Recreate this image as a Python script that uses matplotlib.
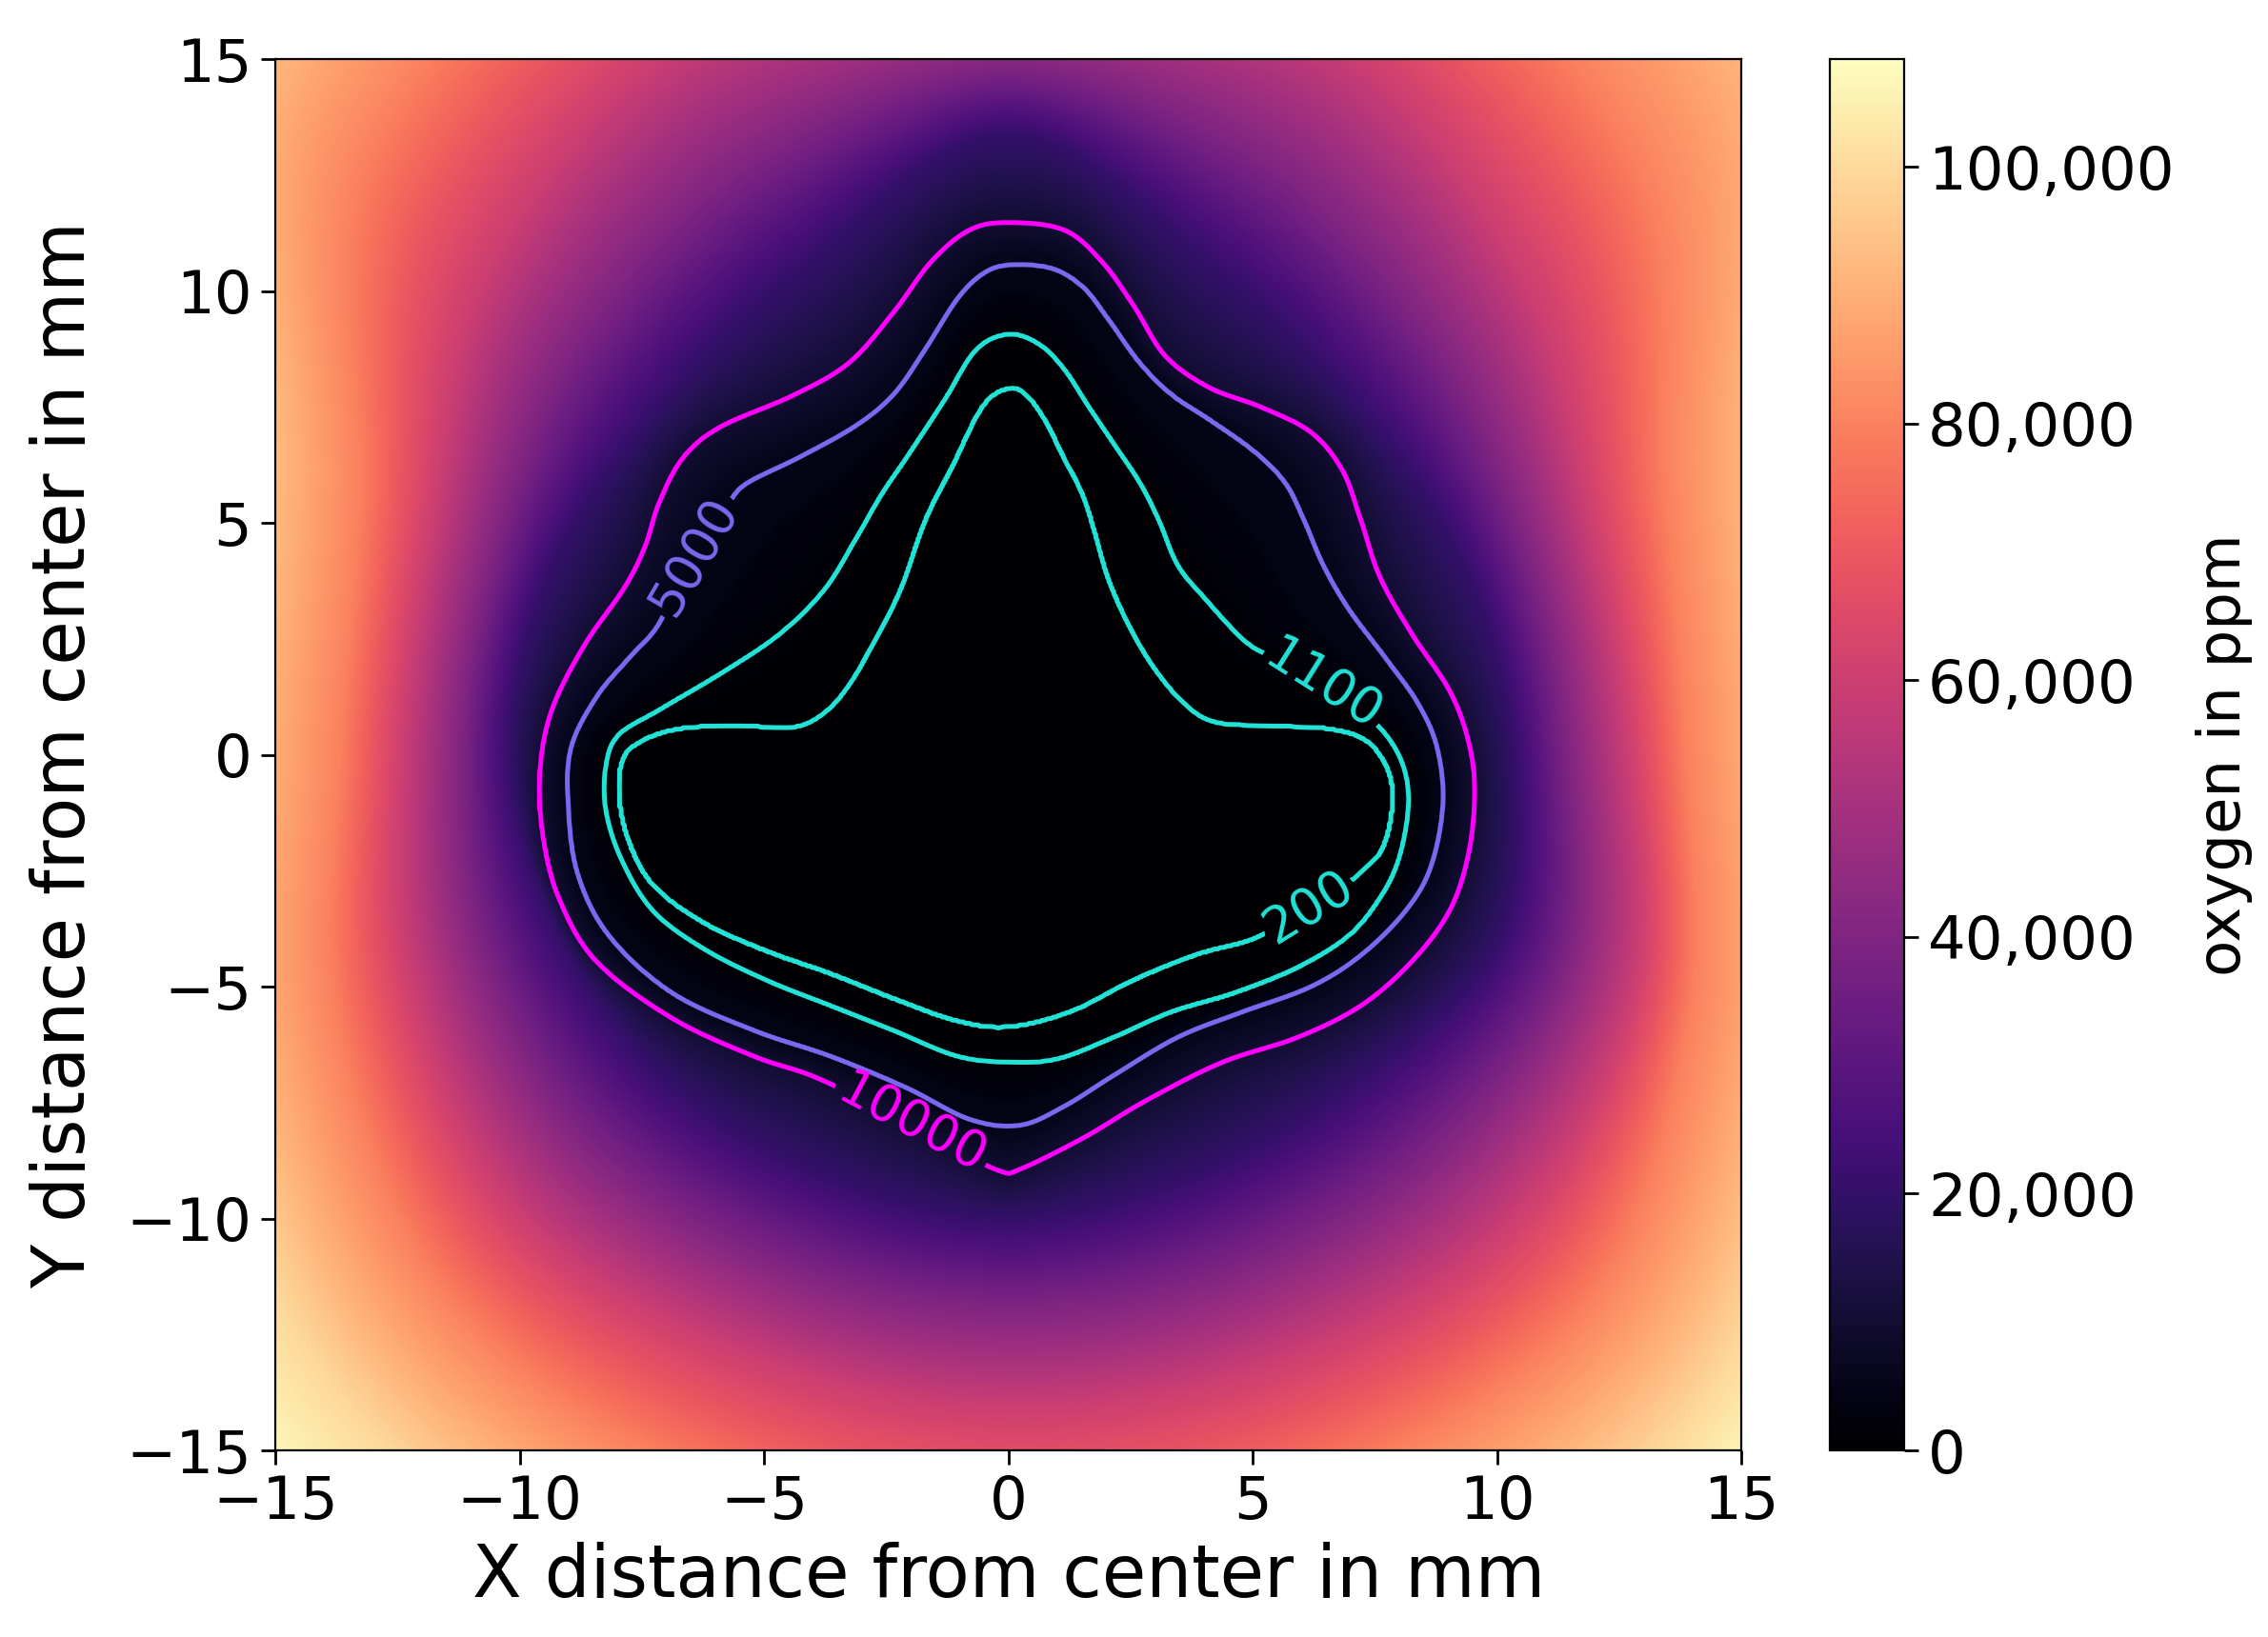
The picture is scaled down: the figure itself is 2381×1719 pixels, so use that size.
import matplotlib
matplotlib.use("Agg")
import matplotlib.pyplot as plt
import numpy as np
from matplotlib.ticker import FuncFormatter


# contour lines, (x, y) in mm, going round clockwise from the top
C200_X = [0, 0.36, 0.75, 1.14, 1.53, 1.78, 2.04, 2.43, 2.95, 3.59, 4.24, 5.40, 6.57, 7.34, 7.80,
          7.86, 7.67, 7.28, 6.70, 5.92, 5.02, 3.85, 2.56, 1.27, 0, -1.06, -2.35, -3.65, -4.94,
          -6.23, -7.27, -7.78, -7.98, -7.91, -7.52, -6.75, -5.58, -4.42, -3.77, -3.26, -2.74,
          -2.22, -1.71, -1.19, -0.54]
C200_Y = [7.91, 7.77, 7.23, 6.41, 5.60, 4.78, 3.83, 2.88, 1.93, 1.12, 0.71, 0.63, 0.57, 0.30, -0.38,
          -1.20, -2.01, -2.49, -2.96, -3.44, -3.98, -4.32, -4.87, -5.55, -5.88, -5.75, -5.27, -4.73,
          -4.25, -3.64, -2.83, -1.88, -0.92, -0.11, 0.30, 0.57, 0.64, 0.60, 0.91, 1.52, 2.47, 3.56,
          5.06, 6.15, 7.51]

C1100_X = [0, 0.62, 1.14, 1.65, 2.17, 2.69, 3.08, 3.46, 3.98, 4.89, 5.66, 6.44, 7.21, 7.80, 8.12,
           8.18, 7.98, 7.60, 6.96, 5.92, 4.63, 3.34, 2.17, 1.01, 0, -1.06, -2.35, -3.65, -4.94,
           -6.23, -7.27, -7.91, -8.24, -8.24, -7.98, -7.14, -5.84, -4.68, -3.77, -3.13, -2.61,
           -2.09, -1.32, -0.67]
C1100_Y = [9.07, 8.86, 8.32, 7.50, 6.69, 5.87, 5.06, 4.10, 3.42, 2.41, 2.00, 1.52, 0.98, 0.33, -0.38,
           -1.20, -2.28, -3.10, -3.91, -4.59, -5.14, -5.55, -6.09, -6.56, -6.63, -6.50, -5.95, -5.41,
           -4.87, -4.19, -3.37, -2.28, -1.20, -0.24, 0.43, 0.98, 1.79, 2.61, 3.56, 4.65, 5.60, 6.41,
           7.64, 8.73]

C5000_X = [0, 0.88, 1.53, 2.04, 2.69, 3.34, 4.11, 5.02, 5.66, 6.05, 6.44, 6.96, 7.73, 8.38, 8.77,
           8.89, 8.64, 8.12, 7.21, 6.18, 4.76, 3.46, 2.17, 1.14, 0.23, -0.80, -2.09, -3.65, -5.20,
           -6.88, -8.17, -8.82, -9.01, -8.95, -8.43, -7.78, -7.20, -6.75, -6.23, -5.71, -5.33,
           -4.29, -3.13, -2.35, -1.71, -1.06, -0.54]
C5000_Y = [10.56, 10.49, 10.08, 9.40, 8.45, 7.77, 7.23, 6.55, 5.87, 5.06, 4.10, 3.15, 2.07, 1.11, 0.16,
           -1.06, -2.42, -3.37, -4.32, -5.00, -5.55, -6.09, -6.90, -7.58, -7.99, -7.86, -7.18, -6.50,
           -5.95, -5.14, -3.91, -2.56, -1.06, 0.16, 1.25, 2.07, 2.75, 3.70, 4.65, 5.46, 5.87, 6.41,
           7.09, 7.77, 8.73, 9.81, 10.36]

C10000_X = [0, 1.14, 1.91, 2.56, 3.21, 4.11, 5.15, 6.18, 6.83, 7.21, 7.60, 8.25, 9.02, 9.41, 9.54,
            9.41, 9.02, 8.25, 7.21, 5.92, 4.37, 2.82, 1.53, 0.23, -0.16, -1.00, -2.00, -3.90, -5.20,
            -6.88, -8.43, -9.20, -9.53, -9.59, -9.35, -8.69, -7.86, -7.44, -7.15, -6.67, -5.91,
            -4.40, -3.26, -2.35, -1.58, -0.80]
C10000_Y = [11.47, 11.31, 10.63, 9.68, 8.59, 7.91, 7.50, 6.96, 6.14, 5.06, 3.83, 2.61, 1.39, 0.30, -0.79,
            -2.15, -3.37, -4.46, -5.41, -6.09, -6.63, -7.45, -8.26, -8.94, -8.98, -8.55, -7.95, -6.97,
            -6.50, -5.68, -4.46, -3.10, -1.74, -0.38, 0.95, 2.34, 3.60, 4.48, 5.43, 6.39, 7.06,
            7.75, 8.45, 9.54, 10.63, 11.31]

# outer field: distance (mm) from the centre where each level is reached, per direction
OUTER_ANGLES = [0, 22.5, 45, 67.5, 90, 112.5, 135, 157.5, 180, 202.5, 225, 247.5, 270, 292.5, 315, 337.5]
R20000 = [10.35, 10.2, 10.35, 11.3, 13.4, 11.3, 10.35, 10.2, 10.2, 10.0, 9.9, 9.8, 10.0, 9.8, 10.0, 10.8]
R40000 = [11.45, 11.5, 12.4, 13.8, 14.8, 13.8, 12.5, 11.4, 11.2, 11.6, 12.0, 11.9, 11.9, 12.0, 12.2, 12.3]
R60000 = [12.7, 12.9, 14.8, 16.8, 16.5, 16.8, 15.0, 12.8, 12.4, 13.2, 14.1, 14.0, 14.1, 14.2, 14.4, 13.8]
R80000 = [13.9, 14.6, 18.2, 20.0, 18.5, 20.0, 18.5, 14.4, 13.7, 14.9, 16.4, 16.8, 17.0, 17.0, 16.8, 15.1]
R100000 = [16.5, 17.6, 23.5, 24.0, 21.0, 24.0, 23.0, 17.2, 16.4, 17.8, 19.5, 20.2, 20.0, 20.5, 20.0, 18.0]
R110000 = [19.0, 20.0, 27.0, 28.0, 24.0, 28.0, 27.0, 19.8, 19.0, 20.5, 22.0, 23.0, 23.0, 23.0, 22.0, 21.0]

LINE_LEVELS = [200, 1100, 5000, 10000]
OUTER_LEVELS = [20000, 40000, 60000, 80000, 100000, 110000]
CBAR_TICKS = [0, 20000, 40000, 60000, 80000, 100000]
VMAX = 108400


def catmull_rom_closed(xs, ys, n=24):
    p = np.column_stack([xs, ys]).astype(float)
    p0, p1, p2, p3 = np.roll(p, 1, axis=0), p, np.roll(p, -1, axis=0), np.roll(p, -2, axis=0)
    t = np.linspace(0, 1, n, endpoint=False)[:, None, None]
    out = 0.5 * (2 * p1 + (-p0 + p2) * t + (2 * p0 - 5 * p1 + 4 * p2 - p3) * t ** 2
                 + (-p0 + 3 * p1 - 3 * p2 + p3) * t ** 3)
    out = out.transpose(1, 0, 2).reshape(-1, 2)
    return out[:, 0], out[:, 1]


def radius_table(xs, ys, theta_grid):
    x, y = catmull_rom_closed(xs, ys)
    ang = np.degrees(np.arctan2(y, x)) % 360
    r = np.hypot(x, y)
    order = np.argsort(ang)
    return np.interp(theta_grid, ang[order], r[order], period=360)


def build_field(n=900):
    theta_grid = np.arange(0, 360, 0.25)
    tables = [np.zeros_like(theta_grid)]
    for cx, cy in [(C200_X, C200_Y), (C1100_X, C1100_Y), (C5000_X, C5000_Y), (C10000_X, C10000_Y)]:
        tables.append(radius_table(cx, cy, theta_grid))
    ang = np.radians(OUTER_ANGLES)
    for radii in [R20000, R40000, R60000, R80000, R100000, R110000]:
        radii = np.asarray(radii)
        tables.append(radius_table(radii * np.cos(ang), radii * np.sin(ang), theta_grid))
    tables = np.array(tables)
    tables = np.maximum.accumulate(tables + 1e-3 * np.arange(len(tables))[:, None], axis=0)
    values = [0] + LINE_LEVELS + OUTER_LEVELS

    grid = np.linspace(-15, 15, n)
    X, Y = np.meshgrid(grid, grid)
    r = np.hypot(X, Y)
    th = np.degrees(np.arctan2(Y, X)) % 360
    radii_at = np.array([np.interp(th, theta_grid, tab, period=360) for tab in tables])

    Z = np.full(X.shape, float(values[-1]))
    for k in range(len(values) - 2, -1, -1):
        lo, hi = radii_at[k], radii_at[k + 1]
        inside = r <= hi
        frac = np.clip((r - lo) / (hi - lo), 0, 1)
        Z = np.where(inside, values[k] + frac * (values[k + 1] - values[k]), Z)
    return X, Y, Z


def main():
    X, Y, Z = build_field()

    fig = plt.figure(figsize=(11.905, 8.595), dpi=200)
    ax = fig.add_axes([0.1215, 0.1140, 0.6463, 0.8499])
    cax = fig.add_axes([0.8068, 0.1140, 0.0328, 0.8499])

    im = ax.imshow(Z, extent=(-15, 15, -15, 15), origin="lower", aspect="auto",
                   cmap="magma", vmin=0, vmax=VMAX, interpolation="bilinear")
    cs = ax.contour(X, Y, Z, levels=LINE_LEVELS,
                    colors=["#22e2d6", "#22e2d6", "mediumslateblue", "magenta"],
                    linewidths=1.8)
    ax.clabel(cs, inline=True, fontsize=19, fmt="%d",
              manual=[(-6.36, 4.24), (6.44, 1.52), (6.11, -3.23), (-1.97, -7.92)])

    ax.set_xlim(-15, 15)
    ax.set_ylim(-15, 15)
    ax.set_xticks(np.arange(-15, 16, 5))
    ax.set_yticks(np.arange(-15, 16, 5))
    ax.tick_params(labelsize=22.5, length=5.5, width=1.0)
    ax.set_xlabel("X distance from center in mm", fontsize=27.2, labelpad=4)
    ax.set_ylabel("Y distance from center in mm", fontsize=27.2, labelpad=10)

    cb = fig.colorbar(im, cax=cax, ticks=CBAR_TICKS)
    cb.ax.yaxis.set_major_formatter(FuncFormatter(lambda v, _pos: f"{v:,.0f}"))
    cb.ax.tick_params(labelsize=22.5, length=5.5, width=1.0)
    cb.set_label("oxygen in ppm", fontsize=22.5, labelpad=8)

    fig.savefig("out.png", dpi=200)


if __name__ == "__main__":
    main()
